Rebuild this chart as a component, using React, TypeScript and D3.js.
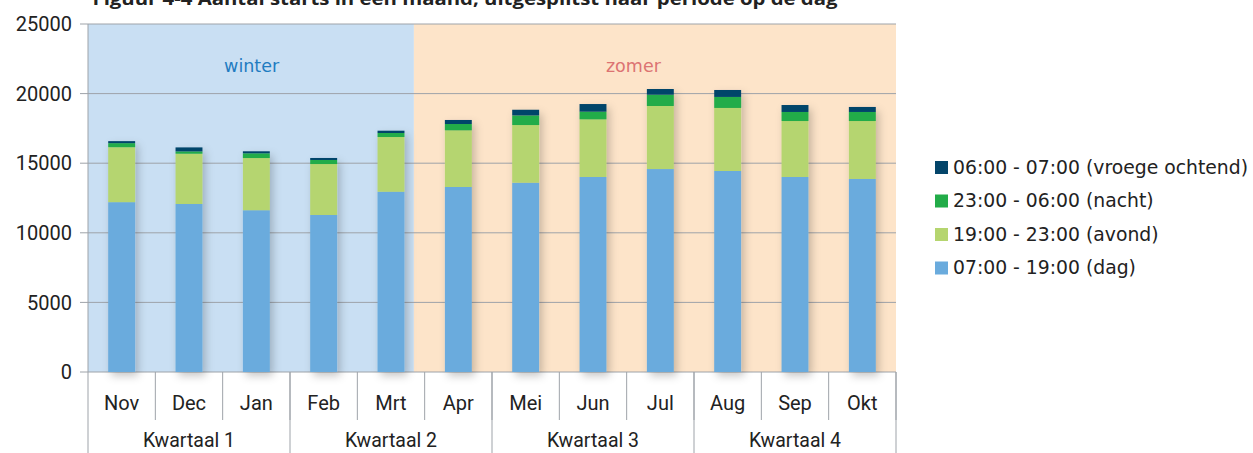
import React from 'react';
import * as d3 from 'd3';

// months on the x axis, grouped per quarter
const months = ['Nov', 'Dec', 'Jan', 'Feb', 'Mrt', 'Apr', 'Mei', 'Jun', 'Jul', 'Aug', 'Sep', 'Okt'];
const quarters = ['Kwartaal 1', 'Kwartaal 1', 'Kwartaal 1', 'Kwartaal 2', 'Kwartaal 2', 'Kwartaal 2',
  'Kwartaal 3', 'Kwartaal 3', 'Kwartaal 3', 'Kwartaal 4', 'Kwartaal 4', 'Kwartaal 4'];

// series, bottom to top
const dag = [12200, 12070, 11620, 11280, 12950, 13290, 13600, 14010, 14580, 14440, 14010, 13870];
const avond = [3950, 3610, 3750, 3660, 3930, 4070, 4140, 4140, 4530, 4530, 4020, 4160];
const nacht = [290, 170, 340, 290, 290, 455, 690, 550, 810, 790, 650, 650];
const vroege = [145, 285, 145, 145, 165, 290, 410, 550, 410, 500, 500, 360];

const seriesNames = ['07:00 - 19:00 (dag)', '19:00 - 23:00 (avond)', '23:00 - 06:00 (nacht)', '06:00 - 07:00 (vroege ochtend)'];
const seriesColors = ['#6aabdd', '#b5d56f', '#22ac48', '#04456a'];

const yTicks = [0, 5000, 10000, 15000, 20000, 25000];

// season bands, in month units along the axis
const seasonNames = ['winter', 'zomer'];
const seasonFrom = [0, 4.84];
const seasonTo = [4.84, 12];
const seasonLabelAt = [2.43, 8.1];

const title = 'Figuur 4-4 Aantal starts in een maand, uitgesplitst naar periode op de dag';

const W = 1253;
const H = 453;
const left = 88, right = 896, top = 24, bottom = 372;
const axisFont = 'Roboto, "Liberation Sans", sans-serif';
const legendFont = '"DejaVu Sans", "Noto Sans", sans-serif';

export default function App() {
  const x = d3.scaleBand<string>().domain(months).range([left, right]).paddingInner(0.6).paddingOuter(0.3);
  const pos = d3.scaleLinear().domain([0, months.length]).range([left, right]);
  const y = d3.scaleLinear().domain([0, 25000]).range([bottom, top]);

  const rows = months.map((m, i) => ({ month: m, s0: dag[i], s1: avond[i], s2: nacht[i], s3: vroege[i] }));
  const stack = d3.stack<any>().keys(['s0', 's1', 's2', 's3']);
  const layers = stack(rows);

  const seasonFill = ['#c9dff3', '#fde4c9'];
  const seasonText = ['#1f7cc1', '#dc7372'];

  // quarter boundaries
  const qStarts: number[] = [];
  quarters.forEach((q, i) => { if (i === 0 || quarters[i - 1] !== q) qStarts.push(i); });
  const qGroups = qStarts.map((s, k) => ({ name: quarters[s], from: s, to: k < qStarts.length - 1 ? qStarts[k + 1] : months.length }));

  return (
    <svg width={W} height={H} style={{ position: 'absolute', left: 0, top: 0, background: '#fff' }}>
      <defs>
        <filter id="shadow" x="-30%" y="-10%" width="180%" height="130%">
          <feDropShadow dx="3" dy="4" stdDeviation="4" floodColor="#000" floodOpacity="0.22" />
        </filter>
      </defs>

      <text x={465} y={5} textAnchor="middle" fontFamily='"Open Sans", sans-serif' fontWeight="bold"
        fontSize={18} fill="#222" textLength={745} lengthAdjust="spacingAndGlyphs">{title}</text>

      {/* season backgrounds */}
      {seasonNames.map((s, i) => (
        <g key={s}>
          <rect x={pos(seasonFrom[i])} y={top} width={pos(seasonTo[i]) - pos(seasonFrom[i])} height={bottom - top} fill={seasonFill[i]} />
          <text x={pos(seasonLabelAt[i])} y={72} textAnchor="middle" fontFamily={legendFont} fontSize={17.5} fill={seasonText[i]}>{s}</text>
        </g>
      ))}

      {/* gridlines and y axis */}
      {yTicks.map(t => (
        <g key={t}>
          <line x1={left - 8} x2={right} y1={y(t)} y2={y(t)} stroke="#9ea3a9" strokeWidth={1} />
          <text x={72} y={y(t)} dy="0.36em" textAnchor="end" fontFamily={axisFont} fontSize={20} fill="#222">{t}</text>
        </g>
      ))}
      <line x1={left} x2={left} y1={top} y2={H} stroke="#9ea3a9" />

      {/* stacked bars */}
      <g filter="url(#shadow)">
        {layers.map((layer, li) => (
          <g key={li} fill={seriesColors[li]}>
            {layer.map((d, i) => (
              <rect key={i} x={x(months[i])} y={y(d[1])} width={x.bandwidth()} height={y(d[0]) - y(d[1])} />
            ))}
          </g>
        ))}
      </g>

      {/* category axis */}
      {months.map((m, i) => (
        <g key={m}>
          <line x1={pos(i + 1)} x2={pos(i + 1)} y1={bottom} y2={420} stroke="#9ea3a9" />
          <text x={(x(m) as number) + x.bandwidth() / 2} y={403} dy="0.36em" textAnchor="middle" fontFamily={axisFont} fontSize={20} fill="#222">{m}</text>
        </g>
      ))}
      {qGroups.map(q => (
        <g key={q.name}>
          <line x1={pos(q.to)} x2={pos(q.to)} y1={bottom} y2={H} stroke="#9ea3a9" />
          <text x={pos((q.from + q.to) / 2)} y={440} dy="0.36em" textAnchor="middle" fontFamily={axisFont} fontSize={19.5} fill="#222">{q.name}</text>
        </g>
      ))}

      {/* legend, top series first */}
      {seriesNames.slice().reverse().map((name, k) => {
        const si = seriesNames.length - 1 - k;
        const cy = 167 + k * 33.5;
        return (
          <g key={name}>
            <rect x={935} y={cy - 6} width={13} height={13} fill={seriesColors[si]} />
            <text x={953} y={cy} dy="0.36em" fontFamily={legendFont} fontSize={18.8} fill="#222">{name}</text>
          </g>
        );
      })}
    </svg>
  );
}
